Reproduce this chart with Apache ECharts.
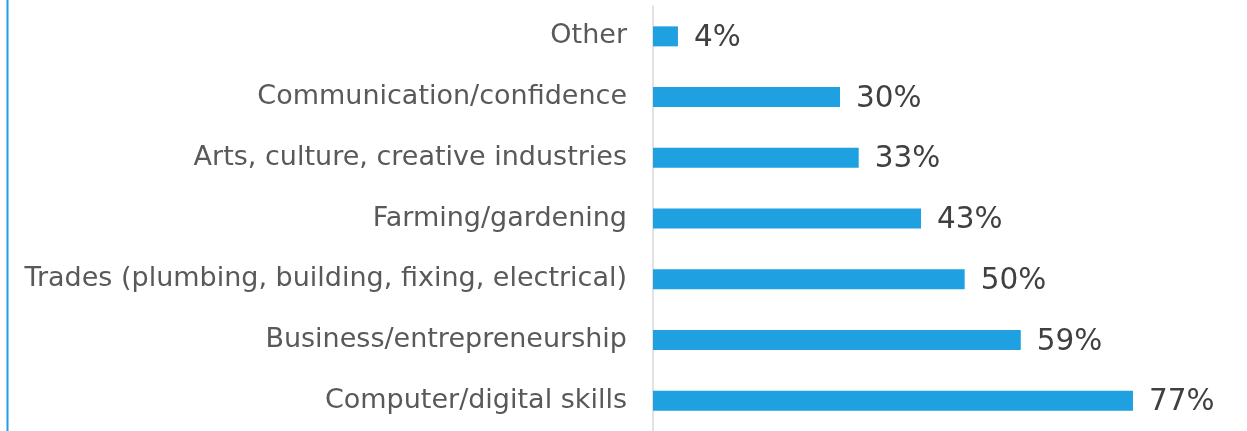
<!DOCTYPE html>
<html>
<head>
<meta charset="utf-8">
<style>
  html, body { margin: 0; padding: 0; background: #ffffff; }
  #chart { width: 1247px; height: 431px; }
</style>
<script src="https://cdn.jsdelivr.net/npm/echarts@6/dist/echarts.min.js"></script>
</head>
<body>
<div id="chart"></div>
<script>
// Skill areas, listed bottom to top
const categories = [
  'Computer/digital skills',
  'Business/entrepreneurship',
  'Trades (plumbing, building, fixing, electrical)',
  'Farming/gardening',
  'Arts, culture, creative industries',
  'Communication/confidence',
  'Other'
];
// Share of respondents (%)
const shares = [77, 59, 50, 43, 33, 30, 4];

const chart = echarts.init(document.getElementById('chart'), null, { renderer: 'canvas' });

chart.setOption({
  animation: false,
  backgroundColor: '#ffffff',
  textStyle: { fontFamily: 'DejaVu Sans' },
  graphic: [{
    type: 'line',
    shape: { x1: 7.5, y1: 0, x2: 7.5, y2: 431 },
    style: { stroke: '#1fa0e1', lineWidth: 2 }
  }],
  grid: { left: 653, top: 6, width: 561, height: 429, containLabel: false },
  xAxis: {
    type: 'value',
    min: 0,
    max: 90,
    show: false
  },
  yAxis: {
    type: 'category',
    data: categories,
    axisLine: { show: true, lineStyle: { color: '#d9d9d9', width: 1.5 } },
    axisTick: { show: false },
    splitLine: { show: false },
    axisLabel: {
      color: '#595959',
      fontSize: 27,
      fontFamily: 'DejaVu Sans',
      margin: 26
    }
  },
  series: [{
    type: 'bar',
    data: shares,
    barWidth: 20,
    itemStyle: { color: '#1fa0e1' },
    label: {
      show: true,
      position: 'right',
      distance: 16,
      offset: [0, 2],
      color: '#404040',
      fontSize: 29.5,
      fontFamily: 'DejaVu Sans',
      formatter: p => p.value + '%'
    }
  }]
});
</script>
</body>
</html>
